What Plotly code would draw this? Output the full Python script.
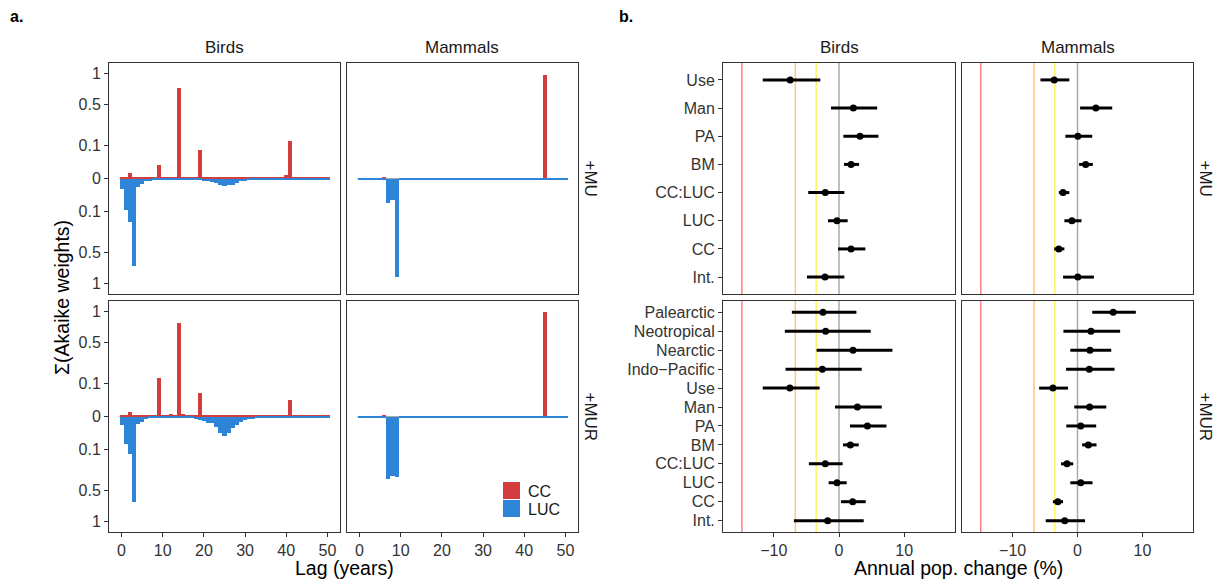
import numpy as np
import plotly.graph_objects as go

# ---------------- data: panel a (summed Akaike weights per lag) ----------------
lags = list(range(51))

birds_mu_cc = [
    0.0001, 0.0001, 0.003, 0.0001, 0.0001, 0.0001, 0.0001, 0.0001, 0.0001, 0.016,
    0.0001, 0.0001, 0.0003, 0.0001, 0.75, 0.0003, 0.0001, 0.0001, 0.0001, 0.076,
    0.0001, 0.0001, 0.0001, 0.0001, 0.0001, 0.0001, 0.0001, 0.0001, 0.0001, 0.0001,
    0.0001, 0.0001, 0.0001, 0.0001, 0.0001, 0.0001, 0.0001, 0.0001, 0.0001, 0.0001,
    0.0012, 0.129, 0.0001, 0.0001, 0.0001, 0.0001, 0.0001, 0.0001, 0.0003, 0.0001,
    0.0001]
birds_mu_luc = [
    0.010, 0.088, 0.173, 0.70, 0.0061, 0.0025, 0.0005, 0.0005, 0.0002, 0.0001,
    0.0001, 0.0001, 0.0001, 0.0001, 0.0002, 0.0001, 0.0001, 0.0001, 0.0002, 0.0002,
    0.0006, 0.0006, 0.0010, 0.0019, 0.0035, 0.0052, 0.0035, 0.0035, 0.0017, 0.0006,
    0.0005, 0.0002, 0.0001, 0.0001, 0.0001, 0.0001, 0.0001, 0.0001, 0.0001, 0.0001,
    0.0001, 0.0001, 0.0001, 0.0001, 0.0001, 0.0001, 0.0001, 0.0001, 0.0001, 0.0001,
    0.0001]
birds_mur_cc = [
    0.0001, 0.0001, 0.002, 0.0001, 0.0001, 0.0001, 0.0001, 0.0001, 0.0001, 0.136,
    0.0003, 0.0001, 0.0004, 0.0001, 0.796, 0.0008, 0.0001, 0.0001, 0.0001, 0.051,
    0.0001, 0.0001, 0.0001, 0.0001, 0.0001, 0.0001, 0.0001, 0.0001, 0.0001, 0.0001,
    0.0001, 0.0001, 0.0001, 0.0002, 0.0002, 0.0002, 0.0002, 0.0002, 0.0002, 0.0002,
    0.0002, 0.025, 0.0002, 0.0002, 0.0002, 0.0001, 0.0001, 0.0001, 0.0001, 0.0001,
    0.0001]
birds_mur_luc = [
    0.0063, 0.068, 0.127, 0.66, 0.0049, 0.0026, 0.0005, 0.00016, 0.0001, 0.0001,
    0.0001, 0.0001, 0.0001, 0.0001, 0.0001, 0.0001, 0.0001, 0.00036, 0.0005, 0.001,
    0.0015, 0.0033, 0.0044, 0.0091, 0.026, 0.033, 0.026, 0.013, 0.0058, 0.0023,
    0.001, 0.0004, 0.0004, 0.00016, 0.00016, 0.00016, 0.0001, 0.0001, 0.0001, 0.0001,
    0.0001, 0.0001, 0.0001, 0.0001, 0.0001, 0.0001, 0.0001, 0.0001, 0.0001, 0.0001,
    0.0001]
mammals_mu_cc = [
    0, 0, 0, 0, 0, 0, 0.0001, 0, 0, 0,
    0, 0, 0, 0, 0, 0, 0, 0, 0, 0,
    0, 0, 0, 0, 0, 0, 0, 0, 0, 0,
    0, 0, 0, 0, 0, 0, 0, 0, 0, 0,
    0, 0, 0, 0, 0, 0.97, 0, 0, 0, 0,
    0]
mammals_mu_luc = [
    0.0001, 0.0001, 0.0001, 0.0001, 0.0001, 0.0001, 0.0001, 0.056, 0.041, 0.884,
    0.0001, 0.0001, 0.0001, 0.0001, 0.0001, 0.0001, 0.0001, 0.0001, 0.0001, 0.0001,
    0.0001, 0.0001, 0.0001, 0.0001, 0.0001, 0.0001, 0.0001, 0.0001, 0.0001, 0.0001,
    0.0001, 0.0001, 0.0001, 0.0001, 0.0001, 0.0001, 0.0001, 0.0001, 0.0001, 0.0001,
    0.0001, 0.0001, 0.0001, 0.0001, 0.0001, 0.0001, 0.0001, 0.0001, 0.0001, 0.0001,
    0.0001]
mammals_mur_cc = [
    0, 0, 0, 0, 0, 0, 0.0001, 0, 0, 0,
    0, 0, 0, 0, 0, 0, 0, 0, 0, 0,
    0, 0, 0, 0, 0, 0, 0, 0, 0, 0,
    0, 0, 0, 0, 0, 0, 0, 0, 0, 0,
    0, 0, 0, 0, 0, 0.99, 0, 0, 0, 0,
    0]
mammals_mur_luc = [
    0.0001, 0.0001, 0.0001, 0.0001, 0.0001, 0.0001, 0.0003, 0.349, 0.319, 0.337,
    0.0001, 0.0001, 0.0001, 0.0001, 0.0001, 0.0001, 0.0001, 0.0001, 0.0001, 0.0001,
    0.0001, 0.0001, 0.0001, 0.0001, 0.0001, 0.0001, 0.0001, 0.0001, 0.0001, 0.0001,
    0.0001, 0.0001, 0.0001, 0.0001, 0.0001, 0.0001, 0.0001, 0.0001, 0.0001, 0.0001,
    0.0001, 0.0001, 0.0001, 0.0001, 0.0001, 0.0001, 0.0001, 0.0001, 0.0001, 0.0001,
    0.0001]

series_names = ["CC", "LUC"]
weight_ticks = [0.1, 0.5, 1]
lag_ticks = [0, 10, 20, 30, 40, 50]

# ---------------- data: panel b (annual population change, %) ----------------
terms_mu = ["Use", "Man", "PA", "BM", "CC:LUC", "LUC", "CC", "Int."]
terms_mur = ["Palearctic", "Neotropical", "Nearctic", "Indo\u2212Pacific",
             "Use", "Man", "PA", "BM", "CC:LUC", "LUC", "CC", "Int."]

birds_mu_est = [-7.49, 2.20, 3.23, 1.85, -2.10, -0.31, 1.85, -2.15]
birds_mu_lo = [-11.7, -1.23, 0.67, 0.77, -4.72, -1.69, -0.15, -4.92]
birds_mu_hi = [-2.87, 5.85, 6.05, 3.08, 0.82, 1.33, 4.05, 0.82]

mammals_mu_est = [-3.59, 2.83, 0.05, 1.26, -2.22, -0.86, -2.88, 0.05]
mammals_mu_lo = [-5.71, 0.40, -1.87, 0.25, -2.88, -2.02, -3.59, -2.22]
mammals_mu_hi = [-1.26, 5.35, 2.27, 2.37, -1.26, 0.61, -2.02, 2.53]

birds_mur_est = [-2.46, -2.05, 2.15, -2.56, -7.54, 2.82, 4.36, 1.74, -2.10, -0.31, 2.10, -1.74]
birds_mur_lo = [-7.23, -8.31, -3.44, -8.20, -11.7, -0.62, 1.69, 0.62, -4.62, -1.59, 0.31, -6.92]
birds_mur_hi = [2.67, 4.87, 8.20, 3.49, -2.97, 6.56, 7.28, 3.03, 0.56, 1.18, 4.10, 3.79]

mammals_mur_est = [5.50, 2.07, 1.92, 1.82, -3.79, 1.87, 0.50, 1.67, -1.62, 0.50, -3.03, -1.97]
mammals_mur_lo = [2.27, -2.17, -1.11, -1.77, -5.91, -0.50, -1.72, 0.71, -2.53, -1.11, -3.79, -4.90]
mammals_mur_hi = [8.99, 6.57, 5.20, 5.71, -1.46, 4.44, 2.88, 2.93, -0.66, 2.32, -2.22, 1.16]

thresholds = [-14.9, -6.7, -3.5, 0]
threshold_colors = ["#FF7F7F", "#FFC77A", "#FFF266", "#AAAAAA"]
change_ticks = [-10, 0, 10]

# ---------------- styling ----------------
W, H = 1225, 580
CC_COL = "#D43D3D"
LUC_COL = "#2E84D6"
FONT = "Liberation Sans, Arial, sans-serif"
TICK_COL = "#333333"
TICK_SIZE = 16


def fx(p):
    return p / W


def fy(p):
    return 1 - p / H


cols_a = [(109, 340), (347, 578)]
cols_b = [(723, 955), (962, 1193)]
rows = [(63, 294), (301, 532)]

fig = go.Figure()
layout = dict(
    width=W, height=H,
    margin=dict(l=0, r=0, t=0, b=0),
    paper_bgcolor="white", plot_bgcolor="white",
    font=dict(family=FONT, size=14, color=TICK_COL),
    barmode="overlay", bargap=0,
    showlegend=False,
)

sq = lambda v: [np.sqrt(t) for t in v]
sqn = lambda v: [-np.sqrt(t) for t in v]

bar_sets = [
    (birds_mu_cc, birds_mu_luc, 0, 0),
    (mammals_mu_cc, mammals_mu_luc, 0, 1),
    (birds_mur_cc, birds_mur_luc, 1, 0),
    (mammals_mur_cc, mammals_mur_luc, 1, 1),
]
shapes = []
annotations = []

wt_vals = [-np.sqrt(t) for t in weight_ticks[::-1]] + [0] + [np.sqrt(t) for t in weight_ticks]
wt_text = [f"{t:g}" for t in weight_ticks[::-1]] + ["0"] + [f"{t:g}" for t in weight_ticks]

axis_common = dict(showline=True, mirror=True, linecolor="#333333", linewidth=1,
                   showgrid=False, zeroline=False, ticks="outside", ticklen=4,
                   tickcolor="#333333", tickwidth=1,
                   tickfont=dict(size=TICK_SIZE, color=TICK_COL, family=FONT))

idx = 1
for cc, luc, r, c in bar_sets:
    xa = "x" if idx == 1 else f"x{idx}"
    ya = "y" if idx == 1 else f"y{idx}"
    fig.add_trace(go.Bar(x=lags, y=sq(cc), width=1, marker=dict(color=CC_COL, line=dict(width=0)),
                         name=series_names[0], xaxis=xa, yaxis=ya))
    fig.add_trace(go.Bar(x=lags, y=sqn(luc), width=1, marker=dict(color=LUC_COL, line=dict(width=0)),
                         name=series_names[1], xaxis=xa, yaxis=ya))
    x0, x1 = cols_a[c]
    y0, y1 = rows[r]
    xkey = "xaxis" if idx == 1 else f"xaxis{idx}"
    ykey = "yaxis" if idx == 1 else f"yaxis{idx}"
    layout[xkey] = dict(axis_common, domain=[fx(x0), fx(x1)], anchor=ya,
                        range=[-3.05, 53.05], tickmode="array", tickvals=lag_ticks,
                        showticklabels=(r == 1), ticks="outside" if r == 1 else "")
    layout[ykey] = dict(axis_common, domain=[fy(y1), fy(y0)], anchor=xa,
                        range=[-1.1, 1.1], tickmode="array", tickvals=wt_vals, ticktext=wt_text,
                        showticklabels=(c == 0), ticks="outside" if c == 0 else "")
    shapes.append(dict(type="line", xref=f"{xa} domain", yref=ya, x0=0.045, x1=0.955, y0=0, y1=0,
                       line=dict(color="#AAAAAA", width=1), layer="below"))
    idx += 1

point_sets = [
    (birds_mu_est, birds_mu_lo, birds_mu_hi, terms_mu, 0, 0),
    (mammals_mu_est, mammals_mu_lo, mammals_mu_hi, terms_mu, 0, 1),
    (birds_mur_est, birds_mur_lo, birds_mur_hi, terms_mur, 1, 0),
    (mammals_mur_est, mammals_mur_lo, mammals_mur_hi, terms_mur, 1, 1),
]
for est, lo, hi, terms, r, c in point_sets:
    xa, ya = f"x{idx}", f"y{idx}"
    fig.add_trace(go.Scatter(
        x=est, y=terms, mode="markers", showlegend=False, xaxis=xa, yaxis=ya,
        marker=dict(color="black", size=7),
        error_x=dict(type="data", symmetric=False,
                     array=[h - e for h, e in zip(hi, est)],
                     arrayminus=[e - l for e, l in zip(est, lo)],
                     thickness=3, width=0, color="black")))
    x0, x1 = cols_b[c]
    y0, y1 = rows[r]
    n = len(terms)
    layout[f"xaxis{idx}"] = dict(axis_common, domain=[fx(x0), fx(x1)], anchor=ya,
                                 range=[-17.8, 17.8], tickmode="array", tickvals=change_ticks,
                                 showticklabels=(r == 1), ticks="outside" if r == 1 else "")
    layout[f"yaxis{idx}"] = dict(axis_common, domain=[fy(y1), fy(y0)], anchor=xa,
                                 type="category", categoryorder="array",
                                 categoryarray=terms[::-1], range=[-0.6, n - 0.4],
                                 tickmode="array", tickvals=terms,
                                 showticklabels=(c == 0), ticks="outside" if c == 0 else "")
    for t, col in zip(thresholds, threshold_colors):
        shapes.append(dict(type="line", xref=xa, yref=f"{ya} domain", x0=t, x1=t, y0=0, y1=1,
                           line=dict(color=col, width=1.5), layer="below"))
    idx += 1

# legend (key squares + labels) inside the bottom-right panel of a
for i, (name, col) in enumerate(zip(series_names, [CC_COL, LUC_COL])):
    top = 482 + i * 18
    shapes.append(dict(type="rect", xref="paper", yref="paper",
                       x0=fx(503), x1=fx(520), y0=fy(top + 17), y1=fy(top),
                       fillcolor=col, line=dict(width=0)))
    annotations.append(dict(text=name, x=fx(526), y=fy(top + 9), xref="paper", yref="paper",
                            showarrow=False, xanchor="left", yanchor="middle",
                            font=dict(size=16, color="#1a1a1a", family=FONT)))

# strip labels
strip_font = dict(size=17, color="#1a1a1a", family=FONT)
for (x0, x1), name in zip(cols_a + cols_b, ["Birds", "Mammals", "Birds", "Mammals"]):
    annotations.append(dict(text=name, x=fx((x0 + x1) / 2), y=fy(47), xref="paper", yref="paper",
                            showarrow=False, font=strip_font, xanchor="center", yanchor="middle"))
for xp in [590, 1205]:
    for (y0, y1), name in zip(rows, ["+MU", "+MUR"]):
        annotations.append(dict(text=name, x=fx(xp), y=fy((y0 + y1) / 2), xref="paper", yref="paper",
                                showarrow=False, font=strip_font, textangle=90,
                                xanchor="center", yanchor="middle"))

title_font = dict(size=19.5, color="black", family=FONT)
annotations.append(dict(text="Lag (years)", x=fx(344), y=fy(568), xref="paper", yref="paper",
                        showarrow=False, font=title_font, xanchor="center", yanchor="middle"))
annotations.append(dict(text="Annual pop. change (%)", x=fx(958), y=fy(568), xref="paper", yref="paper",
                        showarrow=False, font=title_font, xanchor="center", yanchor="middle"))
annotations.append(dict(text="\u03a3(Akaike weights)", x=fx(62), y=fy(298), xref="paper", yref="paper",
                        showarrow=False, font=title_font, textangle=-90,
                        xanchor="center", yanchor="middle"))
annotations.append(dict(text="<b>a.</b>", x=fx(8), y=fy(16), xref="paper", yref="paper",
                        showarrow=False, font=dict(size=16, color="black", family=FONT),
                        xanchor="left", yanchor="middle"))
annotations.append(dict(text="<b>b.</b>", x=fx(617), y=fy(16), xref="paper", yref="paper",
                        showarrow=False, font=dict(size=16, color="black", family=FONT),
                        xanchor="left", yanchor="middle"))

layout["shapes"] = shapes
layout["annotations"] = annotations
fig.update_layout(**layout)
fig.write_html("out.html")
